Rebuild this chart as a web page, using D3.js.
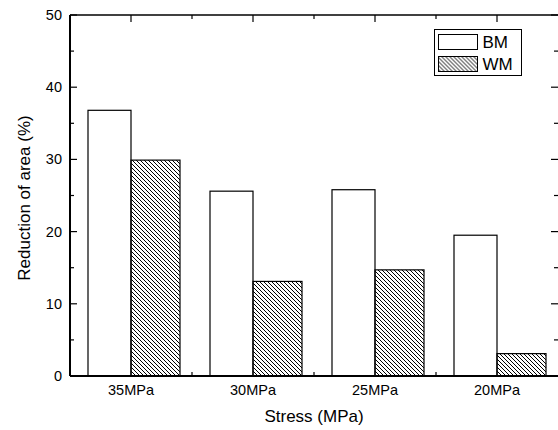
<!DOCTYPE html>
<html>
<head>
<meta charset="utf-8">
<script src="https://cdn.jsdelivr.net/npm/d3@7"></script>
<style>
  body { margin: 0; background: #fff; }
  text { font-family: "Liberation Sans", Arial, sans-serif; fill: #000; }
</style>
</head>
<body>
<div id="chart"></div>
<script>
// data
var categories = ["35MPa", "30MPa", "25MPa", "20MPa"];
var bmValues = [36.8, 25.6, 25.8, 19.5];
var wmValues = [29.9, 13.1, 14.7, 3.1];
var seriesNames = ["BM", "WM"];
var yTicks = [0, 10, 20, 30, 40, 50];

// set the dimensions and margins of the graph
var W = 558, H = 430;
var margin = {top: 15, right: 0, bottom: 54, left: 70},
width = W - margin.left - margin.right,
height = H - margin.top - margin.bottom;

var svg = d3.select("#chart")
.append("svg")
.attr("width", W)
.attr("height", H);

// hatch pattern for WM
var defs = svg.append("defs");
defs.append("pattern")
.attr("id", "hatch")
.attr("patternUnits", "userSpaceOnUse")
.attr("width", 4)
.attr("height", 4)
.append("path")
.attr("d", "M0,0L4,4M-1,3L1,5M3,-1L5,1")
.attr("stroke", "#000")
.attr("stroke-width", 1);

var g = svg.append("g")
.attr("transform", "translate(" + margin.left + "," + margin.top + ")");

// scales
var x = d3.scaleBand().domain(categories).range([0, width]).padding(0);
var y = d3.scaleLinear().domain([0, 50]).range([height, 0]);

var bmWidth = 43, wmWidth = 49;

// bars
var groups = g.append("g")
.selectAll("g")
.data(categories).enter().append("g")
.attr("transform", function(d) { return "translate(" + (x(d) + x.bandwidth() / 2) + ",0)"; });

groups.append("rect")
.attr("x", -bmWidth)
.attr("y", function(d, i) { return y(bmValues[i]); })
.attr("width", bmWidth)
.attr("height", function(d, i) { return height - y(bmValues[i]); })
.attr("fill", "#fff")
.attr("stroke", "#000")
.attr("stroke-width", 1.2);

groups.append("rect")
.attr("x", 0)
.attr("y", function(d, i) { return y(wmValues[i]); })
.attr("width", wmWidth)
.attr("height", function(d, i) { return height - y(wmValues[i]); })
.attr("fill", "url(#hatch)")
.attr("stroke", "#000")
.attr("stroke-width", 1.2);

// Y axis (left) with inward ticks
var yMinor = d3.range(5, 50, 10);
var leftAxis = g.append("g");
leftAxis.selectAll(".maj").data(yTicks).enter().append("line")
.attr("x1", 0).attr("x2", 7)
.attr("y1", function(d) { return y(d); }).attr("y2", function(d) { return y(d); })
.attr("stroke", "#000").attr("stroke-width", 1.2);
leftAxis.selectAll(".min").data(yMinor).enter().append("line")
.attr("x1", 0).attr("x2", 4)
.attr("y1", function(d) { return y(d); }).attr("y2", function(d) { return y(d); })
.attr("stroke", "#000").attr("stroke-width", 1.2);
leftAxis.selectAll("text").data(yTicks).enter().append("text")
.attr("x", -8)
.attr("y", function(d) { return y(d); })
.attr("dy", "0.35em")
.attr("text-anchor", "end")
.style("font-size", "14.5px")
.text(function(d) { return d; });

// right axis ticks (axis line itself sits just past the edge)
var rightAxis = g.append("g");
rightAxis.selectAll(".maj").data(yTicks).enter().append("line")
.attr("x1", width).attr("x2", width - 7)
.attr("y1", function(d) { return y(d); }).attr("y2", function(d) { return y(d); })
.attr("stroke", "#000").attr("stroke-width", 1.2);
rightAxis.selectAll(".min").data(yMinor).enter().append("line")
.attr("x1", width).attr("x2", width - 4)
.attr("y1", function(d) { return y(d); }).attr("y2", function(d) { return y(d); })
.attr("stroke", "#000").attr("stroke-width", 1.2);

// top and bottom ticks
var centers = categories.map(function(c) { return x(c) + x.bandwidth() / 2; });
var bounds = categories.slice(1).map(function(c) { return x(c); });
var topAxis = g.append("g");
topAxis.selectAll(".maj").data(centers).enter().append("line")
.attr("x1", function(d) { return d; }).attr("x2", function(d) { return d; })
.attr("y1", 0).attr("y2", 7)
.attr("stroke", "#000").attr("stroke-width", 1.2);
topAxis.selectAll(".min").data(bounds).enter().append("line")
.attr("x1", function(d) { return d; }).attr("x2", function(d) { return d; })
.attr("y1", 0).attr("y2", 4)
.attr("stroke", "#000").attr("stroke-width", 1.2);
var bottomAxis = g.append("g");
bottomAxis.selectAll(".min").data(bounds).enter().append("line")
.attr("x1", function(d) { return d; }).attr("x2", function(d) { return d; })
.attr("y1", height).attr("y2", height - 4)
.attr("stroke", "#000").attr("stroke-width", 1.2);
bottomAxis.selectAll("text").data(categories).enter().append("text")
.attr("x", function(d) { return x(d) + x.bandwidth() / 2; })
.attr("y", height + 19)
.attr("text-anchor", "middle")
.style("font-size", "14.5px")
.text(function(d) { return d; });

// frame
g.append("line").attr("x1", 0).attr("x2", 0).attr("y1", 0).attr("y2", height)
.attr("stroke", "#000").attr("stroke-width", 2);
g.append("line").attr("x1", 0).attr("x2", width).attr("y1", height).attr("y2", height)
.attr("stroke", "#000").attr("stroke-width", 2);
g.append("line").attr("x1", 0).attr("x2", width).attr("y1", 0).attr("y2", 0)
.attr("stroke", "#000").attr("stroke-width", 1.5);
g.append("line").attr("x1", width + 1).attr("x2", width + 1).attr("y1", 0).attr("y2", height)
.attr("stroke", "#000").attr("stroke-width", 1.5);

// axis titles
svg.append("text")
.attr("transform", "translate(30,198) rotate(-90)")
.attr("text-anchor", "middle")
.style("font-size", "17px")
.text("Reduction of area (%)");

svg.append("text")
.attr("x", margin.left + width / 2)
.attr("y", 422)
.attr("text-anchor", "middle")
.style("font-size", "17px")
.text("Stress (MPa)");

// legend
var legend = svg.append("g").attr("transform", "translate(434.5,29.5)");
legend.append("rect")
.attr("width", 87).attr("height", 46)
.attr("fill", "#fff").attr("stroke", "#000").attr("stroke-width", 1);
var fills = ["#fff", "url(#hatch)"];
seriesNames.forEach(function(s, i) {
  legend.append("rect")
  .attr("x", 4).attr("y", 5 + i * 22)
  .attr("width", 39).attr("height", 15)
  .attr("fill", fills[i]).attr("stroke", "#000").attr("stroke-width", 1);
  legend.append("text")
  .attr("x", 48).attr("y", 18 + i * 22)
  .style("font-size", "17px")
  .text(s);
});
</script>
</body>
</html>
